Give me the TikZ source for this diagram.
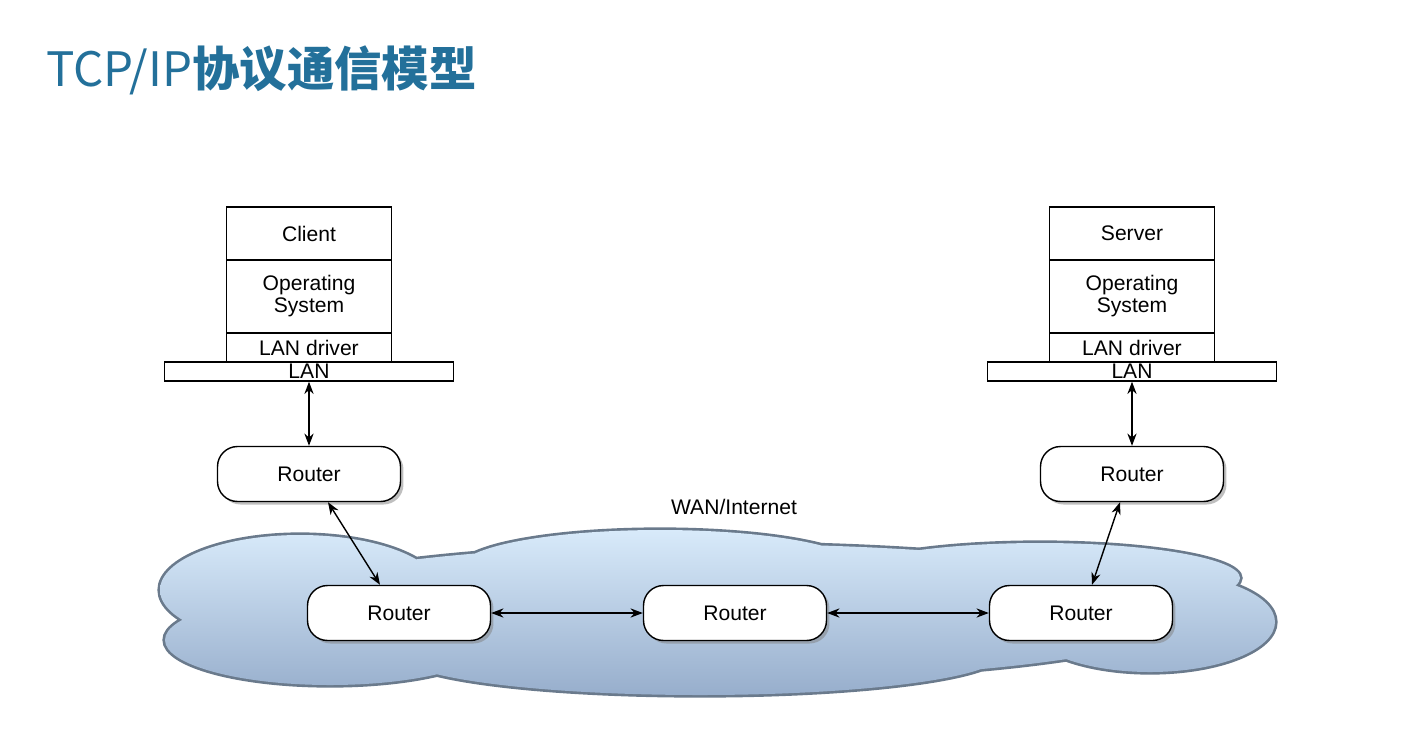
\documentclass[tikz,border=0pt]{standalone}
\usepackage{fontspec}
\setmainfont{Liberation Sans}
\newfontfamily\cjk{Noto Sans CJK SC}
\usetikzlibrary{shadows,arrows.meta}
\definecolor{titleblue}{HTML}{23709A}
\definecolor{cloudtop}{HTML}{D8EAFA}
\definecolor{cloudbot}{HTML}{97AECC}
\definecolor{cloudline}{HTML}{6A7A8C}
\begin{document}
\begin{tikzpicture}[x=0.02cm,y=-0.02cm,
  box/.style={draw,thick,fill=white,minimum width=3.3cm,inner sep=0pt,font=\fontsize{12}{12.5}\selectfont,align=center},
  router/.style={draw,thick,fill=white,rounded corners=0.4cm,minimum width=3.66cm,minimum height=1.1cm,font=\fontsize{12}{13}\selectfont,drop shadow={shadow xshift=0.06cm,shadow yshift=-0.06cm,opacity=0.5}},
  link/.style={thick,{Stealth[length=7pt]}-{Stealth[length=7pt]}}]
\useasboundingbox (0,0) rectangle (1404,735);
\node[anchor=west,text=titleblue,font=\cjk\fontsize{27}{30}\selectfont] (title) at (40,70) {TCP/IP\textbf{协议通信模型}};
% cloud
\path[draw=cloudline,line width=3pt]
 (300,590) ellipse [x radius=140,y radius=55]
 (660,568) ellipse [x radius=200,y radius=38]
 (1040,578) ellipse [x radius=200,y radius=35]
 (1150,622) ellipse [x radius=125,y radius=50]
 (700,655) ellipse [x radius=300,y radius=40]
 (330,640) ellipse [x radius=165,y radius=45]
 (720,612) ellipse [x radius=480,y radius=68];
\shade[top color=cloudtop,bottom color=cloudbot]
 (300,590) ellipse [x radius=140,y radius=55]
 (660,568) ellipse [x radius=200,y radius=38]
 (1040,578) ellipse [x radius=200,y radius=35]
 (1150,622) ellipse [x radius=125,y radius=50]
 (700,655) ellipse [x radius=300,y radius=40]
 (330,640) ellipse [x radius=165,y radius=45]
 (720,612) ellipse [x radius=480,y radius=68];
\node[font=\fontsize{12}{13}\selectfont] (wan) at (734,507) {WAN/Internet};
\foreach \p/\x/\n in {c/309/Client,s/1132/Server}{
  \node[box,minimum height=1.06cm] (\p app) at (\x,233.5) {\n};
  \node[box,minimum height=1.46cm] (\p os) at (\x,296.5) {Operating\\System};
  \node[box,minimum height=0.58cm] (\p drv) at (\x,347.5) {LAN driver};
  \node[box,minimum width=5.78cm,minimum height=0.38cm] (\p lan) at (\x,371.5) {LAN};
}
\node[router] (r1) at (309,474) {Router};
\node[router] (r2) at (1132,474) {Router};
\node[router] (c1) at (399,613) {Router};
\node[router] (c2) at (735,613) {Router};
\node[router] (c3) at (1081,613) {Router};
\draw[link] (clan.south) -- (r1.north);
\draw[link] (slan.south) -- (r2.north);
\draw[link] ([xshift=0.38cm]r1.south) -- ([xshift=-0.38cm]c1.north);
\draw[link] ([xshift=-0.24cm]r2.south) -- ([xshift=0.22cm]c3.north);
\draw[link] (c1) -- (c2);
\draw[link] (c2) -- (c3);
\end{tikzpicture}
\end{document}
